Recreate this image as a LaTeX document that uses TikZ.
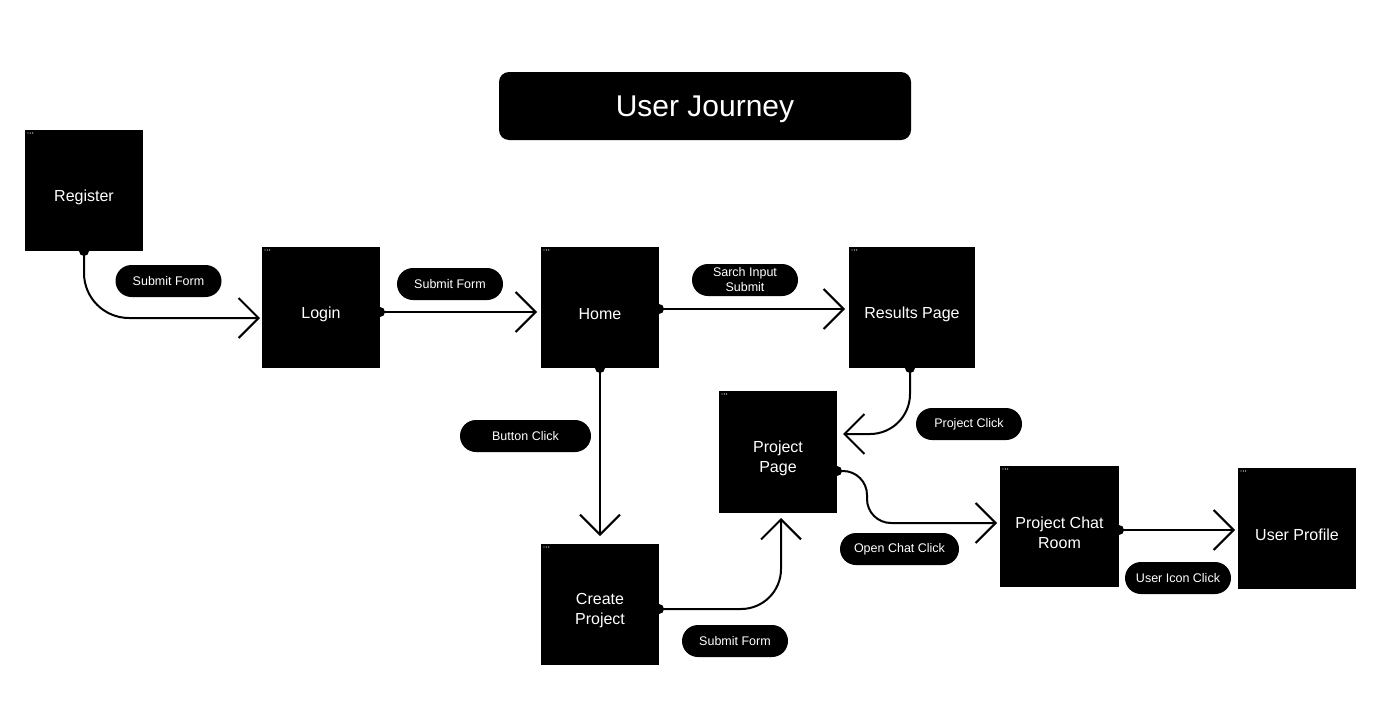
\documentclass[tikz,border=0pt]{standalone}
\usepackage{fontspec}
\setmainfont{Liberation Sans}
\usetikzlibrary{arrows.meta,calc}
\begin{document}
\begin{tikzpicture}[x=1pt,y=-1pt,
  screen/.style={fill=black, minimum width=118pt, minimum height=121pt, inner sep=0pt, outer sep=0pt},
  scrtext/.style={text=white, font=\fontsize{16}{20}\selectfont, align=center, yshift=-6.5pt},
  pill/.style={fill=black, rounded corners=16pt, minimum height=32pt, minimum width=106pt, inner sep=0pt, text=white, font=\fontsize{12.5}{15}\selectfont, align=center},
  conn/.style={line width=2pt, -{Straight Barb[length=20pt,width=40pt]}},
  title/.style={fill=black, rounded corners=10pt, minimum width=412pt, minimum height=68pt, inner sep=0pt, text height=27pt, text depth=6pt, text=white, font=\fontsize{30}{36}\selectfont}]
\fill[white] (0,0) rectangle (1381,715);
\useasboundingbox (0,0) rectangle (1381,715);

\node[title] (title) at (705,106) {User Journey};

\node[screen, label={[scrtext]center:Register}] (reg) at (84,190.5) {};
\node[screen, label={[scrtext]center:Login}] (login) at (321,307.5) {};
\node[screen, label={[scrtext]center:Home}] (home) at (600,307.5) {};
\node[screen, minimum width=126pt, label={[scrtext]center:Results Page}] (results) at (912,307.5) {};
\node[screen, minimum height=122pt, label={[scrtext]center:Project\\Page}] (ppage) at (778,452) {};
\node[screen, label={[scrtext]center:Create\\Project}] (create) at (600,604.5) {};
\node[screen, minimum width=119pt, label={[scrtext]center:Project Chat\\Room}] (chat) at (1059.5,526.5) {};
\node[screen, label={[scrtext]center:User Profile}] (profile) at (1297,528.5) {};

\foreach \n in {reg,login,home,results,ppage,create,chat,profile} {
  \foreach \i in {0,1,2} {
    \fill[gray!40] ($(\n.north west)+(3+2.3*\i,3)$) circle (0.7pt);
  }
}

\node[pill] (l1) at (168.5,281) {Submit Form};
\node[pill] (l2) at (450,284) {Submit Form};
\node[pill] (l3) at (745,280) {Sarch Input\\Submit};
\node[pill, minimum width=131pt] (l4) at (525.5,436) {Button Click};
\node[pill] (l5) at (969,424) {Project Click};
\node[pill, minimum width=119pt] (l6) at (899.5,549) {Open Chat Click};
\node[pill] (l7) at (735,641) {Submit Form};
\node[pill] (l8) at (1178,578) {User Icon Click};

\draw[conn, rounded corners=45pt, shorten >=2pt] (reg.south) |- ($(login.west)+(0,10.5)$);
\fill (reg.south) circle (5pt);

\draw[conn, shorten >=4pt] ($(login.east)+(0,4.5)$) -- ($(home.west)+(0,4.5)$);
\fill ($(login.east)+(0,4.5)$) circle (5pt);

\draw[conn, shorten >=4pt] ($(home.east)+(0,1.5)$) -- ($(results.west)+(0,1.5)$);
\fill ($(home.east)+(0,1.5)$) circle (5pt);

\draw[conn, shorten >=8pt] (home.south) -- (create.north);
\fill (home.south) circle (5pt);

\draw[conn, rounded corners=40pt, shorten >=6pt] ($(results.south)+(-2,0)$) |- ($(ppage.east)+(0,-18)$);
\fill ($(results.south)+(-2,0)$) circle (5pt);

\draw[conn, rounded corners=40pt, shorten >=5pt] ($(create.east)+(0,4.5)$) -| ($(ppage.south)+(3,0)$);
\fill ($(create.east)+(0,4.5)$) circle (5pt);

\draw[conn, rounded corners=24pt, shorten >=3pt] ($(ppage.east)+(0,19)$) -| ($(ppage.east)+(30,71)$) -- ($(chat.west)+(0,-3.5)$);
\fill ($(ppage.east)+(0,19)$) circle (5pt);

\draw[conn, shorten >=3pt] ($(chat.east)+(0,3.5)$) -- ($(profile.west)+(0,1.5)$);
\fill ($(chat.east)+(0,3.5)$) circle (5pt);
\end{tikzpicture}
\end{document}
